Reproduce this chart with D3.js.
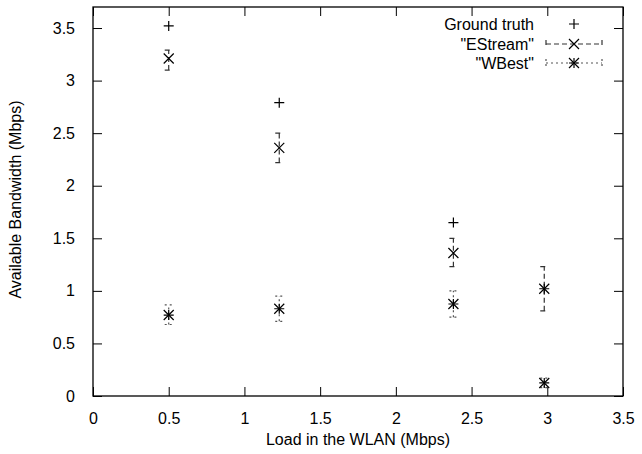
<!DOCTYPE html>
<meta charset="utf-8">
<script src="https://d3js.org/d3.v7.min.js"></script>
<style>
  body { margin: 0; background: #fff; }
  text { font-family: "Liberation Sans", Arial, sans-serif; fill: #000; }
</style>
<body>
<div id="my_dataviz"></div>
<script>
// data
var loads = [0.5, 1.23, 2.38, 2.98];
var groundTruth = [3.52, 2.79, 1.65, 1.02];
var estream = [3.21, 2.36, 1.36, 1.02];
var estreamLow = [3.10, 2.22, 1.23, 0.81];
var estreamHigh = [3.29, 2.50, 1.50, 1.23];
var wbest = [0.77, 0.83, 0.875, 0.124];
var wbestLow = [0.68, 0.71, 0.75, 0.08];
var wbestHigh = [0.866, 0.95, 1.0, 0.17];
var xTicks = [0, 0.5, 1, 1.5, 2, 2.5, 3, 3.5];
var yTicks = [0, 0.5, 1, 1.5, 2, 2.5, 3, 3.5];

var W = 642, H = 454;
var margin = { top: 7, right: 19, bottom: 58, left: 93 };
var width = W - margin.left - margin.right,
    height = H - margin.top - margin.bottom;

var svg = d3.select("#my_dataviz").append("svg")
  .attr("width", W).attr("height", H)
  .append("g")
  .attr("transform", "translate(" + margin.left + "," + margin.top + ")");

var x = d3.scaleLinear().domain([0, 3.5]).range([0, width]);
var y = d3.scaleLinear().domain([0, 3.7]).range([height, 0]);

// axes with inward ticks, mirrored
var tl = 9;
svg.append("g").attr("transform", "translate(0," + height + ")")
  .call(d3.axisBottom(x).tickValues(xTicks).tickSize(-tl).tickPadding(tl + 8).tickFormat(d3.format("")))
  .call(g => g.select(".domain").remove())
  .call(g => g.selectAll("text").style("font-size", "16px"));
svg.append("g")
  .call(d3.axisTop(x).tickValues(xTicks).tickSize(-tl).tickFormat(""))
  .call(g => g.select(".domain").remove());
svg.append("g")
  .call(d3.axisLeft(y).tickValues(yTicks).tickSize(-tl).tickPadding(tl + 9).tickFormat(d3.format("")))
  .call(g => g.select(".domain").remove())
  .call(g => g.selectAll("text").style("font-size", "16px"));
svg.append("g").attr("transform", "translate(" + width + ",0)")
  .call(d3.axisRight(y).tickValues(yTicks).tickSize(-tl).tickFormat(""))
  .call(g => g.select(".domain").remove());

svg.append("rect").attr("width", width).attr("height", height)
  .attr("fill", "none").attr("stroke", "#000").attr("stroke-width", 1.3);

// axis titles
svg.append("text").attr("x", width / 2).attr("y", height + 49)
  .attr("text-anchor", "middle").style("font-size", "16px")
  .text("Load in the WLAN (Mbps)");
svg.append("text").attr("transform", "rotate(-90)")
  .attr("x", -(height / 2) + 2).attr("y", -72)
  .attr("text-anchor", "middle").style("font-size", "16px")
  .text("Available Bandwidth (Mbps)");

// marker helpers
function plus(g, cx, cy, s) {
  g.append("path").attr("d", "M" + (cx - s) + "," + cy + "H" + (cx + s) + "M" + cx + "," + (cy - s) + "V" + (cy + s))
    .attr("stroke", "#000").attr("stroke-width", 1.2).attr("fill", "none");
}
function cross(g, cx, cy, s) {
  g.append("path").attr("d", "M" + (cx - s) + "," + (cy - s) + "L" + (cx + s) + "," + (cy + s) +
    "M" + (cx - s) + "," + (cy + s) + "L" + (cx + s) + "," + (cy - s))
    .attr("stroke", "#000").attr("stroke-width", 1.2).attr("fill", "none");
}
function star(g, cx, cy, s) {
  plus(g, cx, cy, s);
  cross(g, cx, cy, s);
}
function errBar(g, cx, lo, hi, dash, color) {
  var c = 4;
  g.append("path").attr("d", "M" + cx + "," + lo + "V" + hi +
      "M" + (cx - c) + "," + lo + "H" + (cx + c) + "M" + (cx - c) + "," + hi + "H" + (cx + c))
    .attr("stroke", color).attr("stroke-width", 1.2).attr("fill", "none")
    .attr("stroke-dasharray", dash);
}

var marks = svg.append("g");
loads.forEach(function (d, i) {
  errBar(marks, x(d), y(estreamLow[i]), y(estreamHigh[i]), "5,3", "#333");
  errBar(marks, x(d), y(wbestLow[i]), y(wbestHigh[i]), "2,3", "#555");
  plus(marks, x(d), y(groundTruth[i]), 5);
  cross(marks, x(d), y(estream[i]), 5);
  star(marks, x(d), y(wbest[i]), 5);
});

// legend
var legend = svg.append("g");
var names = ["Ground truth", "\"EStream\"", "\"WBest\""];
var ly = [17, 37, 56];
var lx0 = 453, lx1 = 509, lc = 481;
names.forEach(function (n, i) {
  legend.append("text").attr("x", 441).attr("y", ly[i] + 6)
    .attr("text-anchor", "end").style("font-size", "16px").text(n);
});
plus(legend, lc, ly[0], 5);
legend.append("path").attr("d", "M" + lx0 + "," + ly[1] + "H" + lx1 +
    "M" + lx0 + "," + (ly[1] - 4) + "V" + (ly[1] + 4) + "M" + lx1 + "," + (ly[1] - 4) + "V" + (ly[1] + 4))
  .attr("stroke", "#333").attr("stroke-width", 1.2).attr("stroke-dasharray", "5,3").attr("fill", "none");
cross(legend, lc, ly[1], 5);
legend.append("path").attr("d", "M" + lx0 + "," + ly[2] + "H" + lx1 +
    "M" + lx0 + "," + (ly[2] - 4) + "V" + (ly[2] + 4) + "M" + lx1 + "," + (ly[2] - 4) + "V" + (ly[2] + 4))
  .attr("stroke", "#555").attr("stroke-width", 1.2).attr("stroke-dasharray", "2,3").attr("fill", "none");
star(legend, lc, ly[2], 5);
</script>
</body>
